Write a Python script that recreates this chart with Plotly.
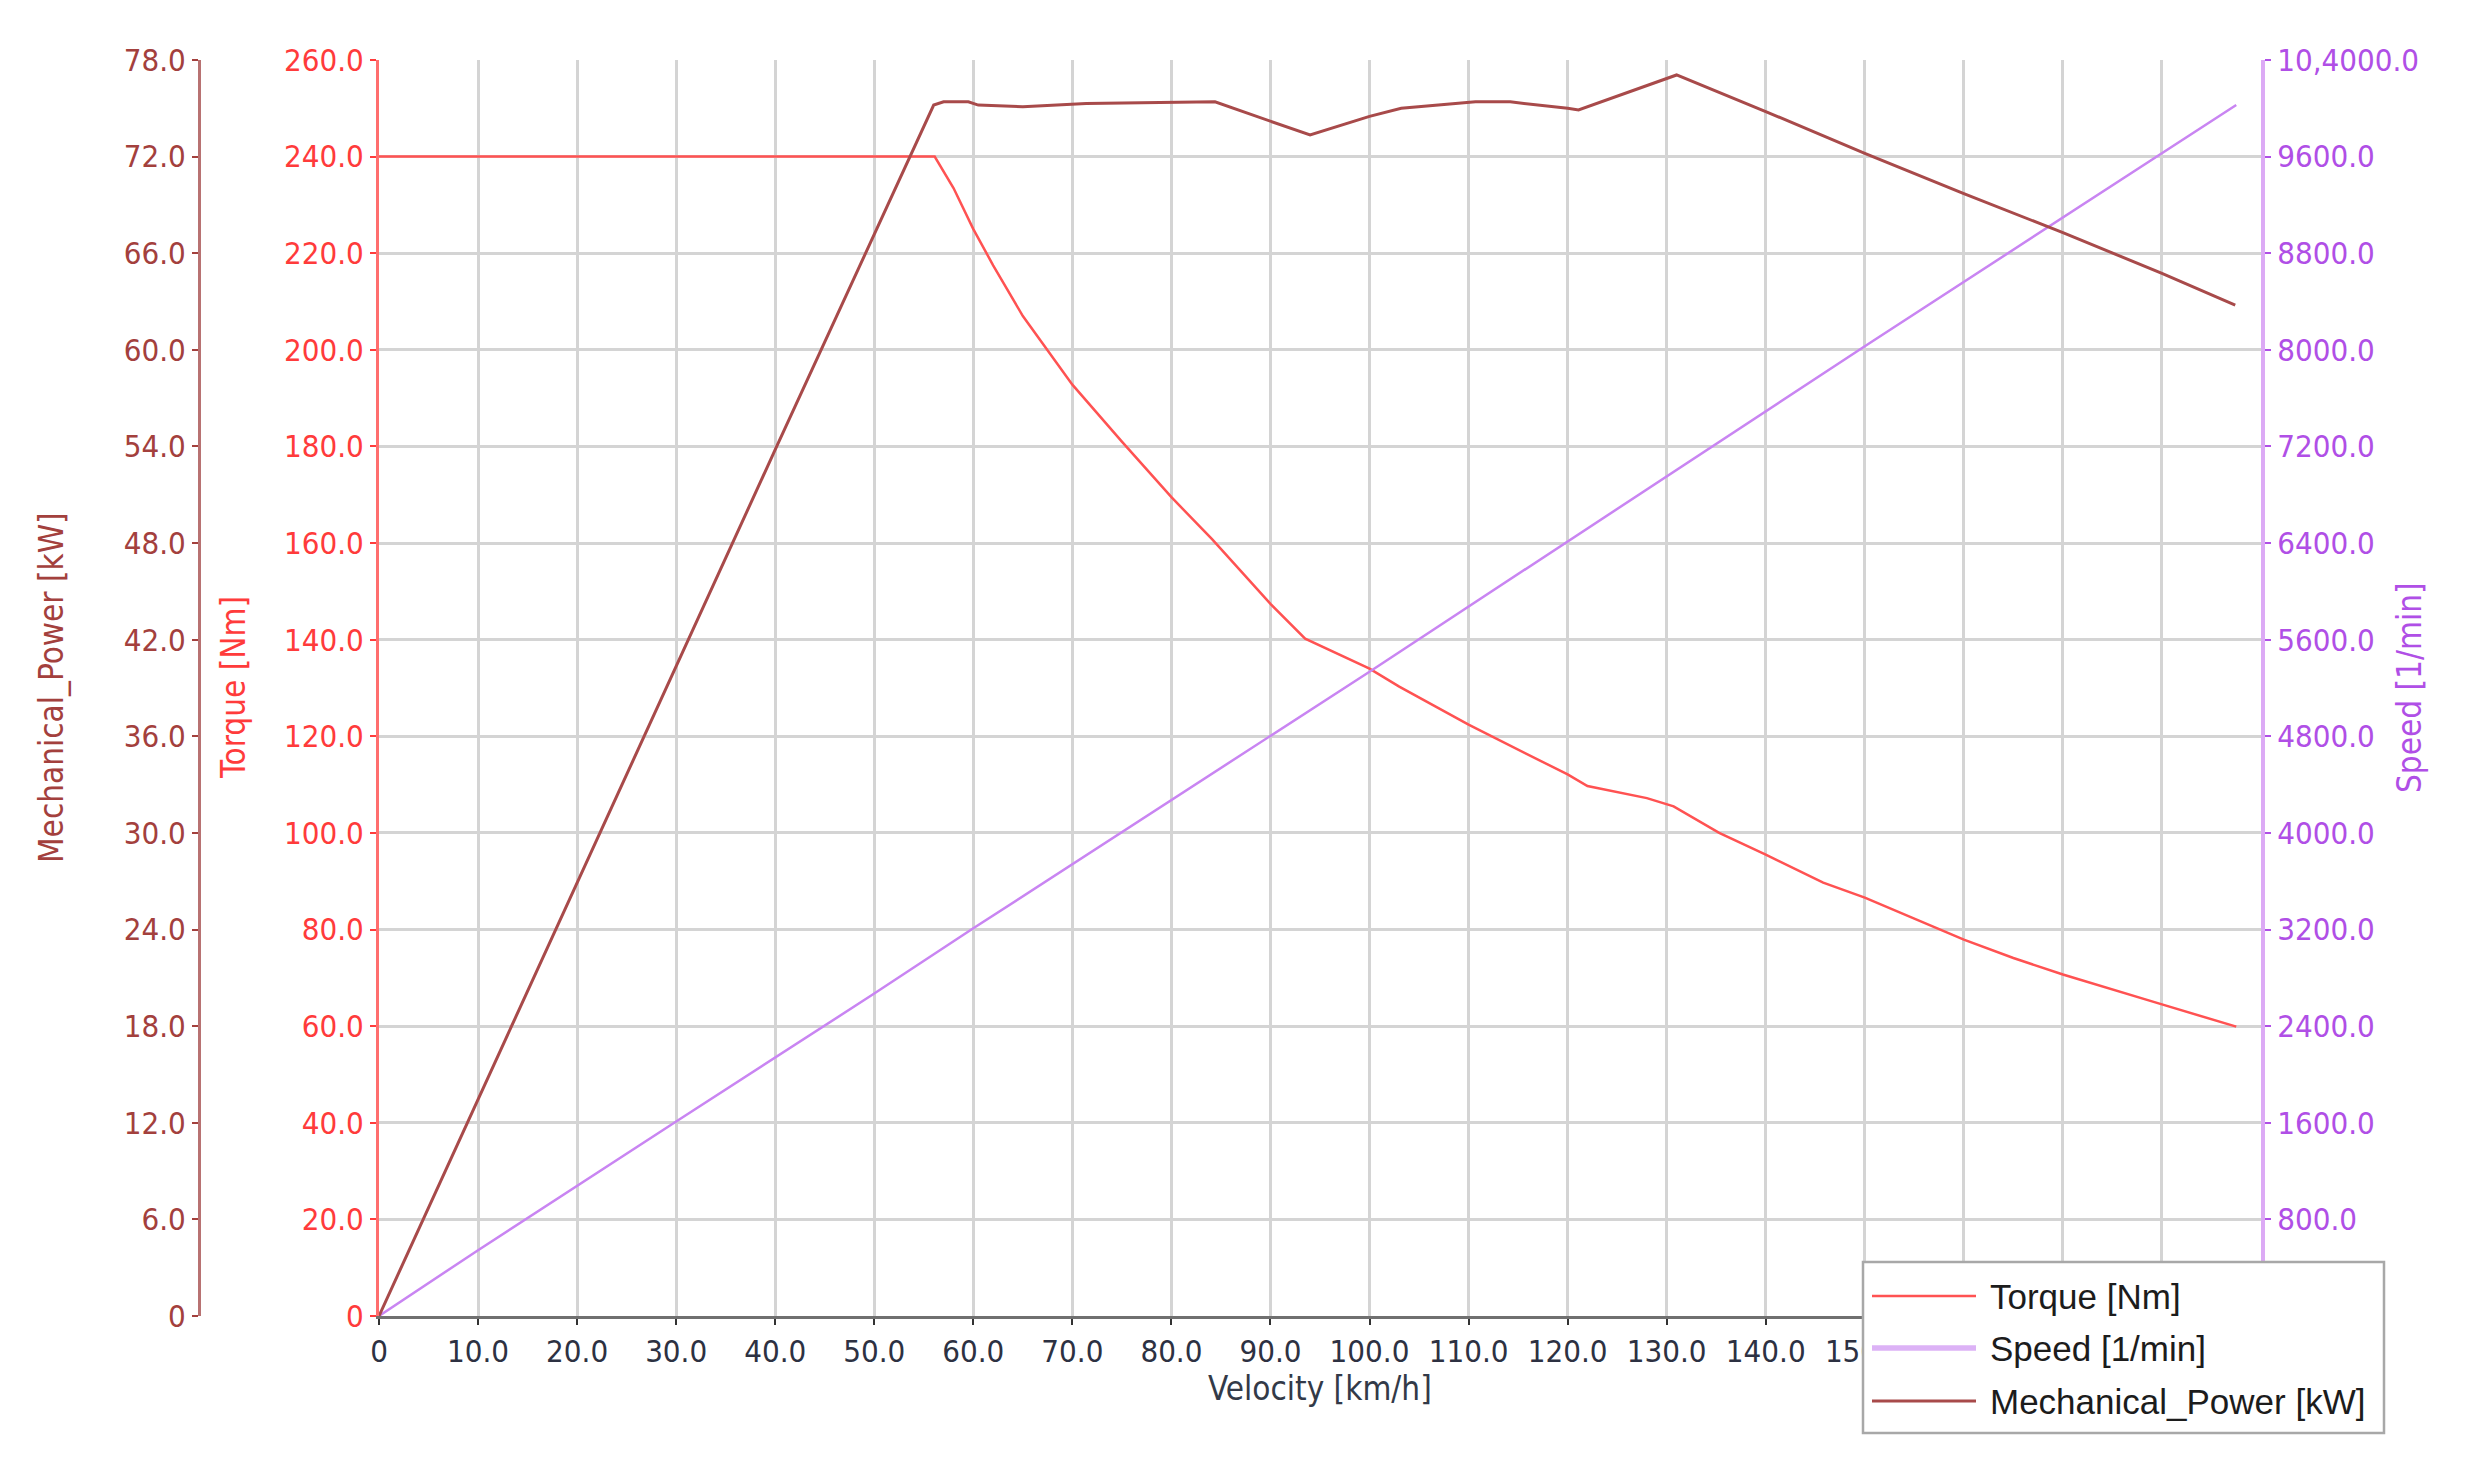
import plotly.graph_objects as go

# ---------------- data ----------------
velocity_torque = [0, 56.1, 58, 60, 62, 65, 70, 75, 80, 84.1, 90, 93.5, 100, 103, 110,
                   120, 122, 128, 130.7, 135.3, 140, 145.8, 150, 160, 165, 170, 180, 187.5]
torque_nm = [240, 240, 233.5, 225, 217.5, 207, 192.8, 181, 169.5, 160.8, 147.4, 140.2, 134, 130.3, 122.4,
             112.1, 109.7, 107.2, 105.5, 100, 95.5, 89.7, 86.6, 77.9, 74.1, 70.7, 64.5, 59.9]

velocity_speed = [0, 10, 30, 50, 60, 100, 150, 187.5]
speed_rpm = [0, 545, 1610, 2670, 3210, 5335, 8030, 10028]

velocity_power = [0, 20, 40, 56.0, 57.0, 59.5, 60.5, 65.0, 71.4, 84.4, 94.0, 100, 103.2, 110.7,
                  114.2, 120, 121.1, 131.0, 140, 150, 160, 170, 180, 187.4]
power_kw = [0, 26.9, 53.8, 75.2, 75.4, 75.4, 75.2, 75.1, 75.3, 75.4, 73.34, 74.5, 75.0, 75.4,
            75.4, 75.0, 74.9, 77.07, 74.8, 72.2, 69.7, 67.28, 64.75, 62.78]

velocity_ticks = list(range(0, 191, 10))
velocity_ticktext = ["0"] + [f"{v:.1f}" if v <= 150 else "" for v in velocity_ticks[1:]]
torque_ticks = list(range(0, 261, 20))
torque_ticktext = ["0"] + [f"{t:.1f}" for t in torque_ticks[1:]]
power_ticks = list(range(0, 79, 6))
power_ticktext = ["0"] + [f"{p:.1f}" for p in power_ticks[1:]]
speed_ticks = list(range(0, 10401, 800))
speed_ticktext = [""] + [f"{s:.1f}" for s in speed_ticks[1:-1]] + ["10,4000.0"]

series_names = ["Torque [Nm]", "Speed [1/min]", "Mechanical_Power [kW]"]

# ---------------- style ----------------
W, H = 2484, 1459
PX0, PX1, PYT, PYB = 379, 2261, 60, 1316
FONT = "Tahoma, 'DejaVu Sans Condensed', 'Liberation Sans', sans-serif"
LFONT = "'Liberation Sans', Arial, sans-serif"

torque_col, torque_line, torque_axis = "#ff3b3b", "#ff5252", "#ff6e6e"
power_col, power_line, power_axis = "#a3403d", "#a84a4a", "#b87272"
speed_col, speed_line, speed_axis = "#b04fe6", "#c985f2", "#dcaaf5"
grid_col = "#d4d4d4"

fig = go.Figure()
fig.add_trace(go.Scatter(x=velocity_torque, y=torque_nm, mode="lines", name=series_names[0],
                         line=dict(color=torque_line, width=2.5), yaxis="y"))
fig.add_trace(go.Scatter(x=velocity_speed, y=speed_rpm, mode="lines", name=series_names[1],
                         line=dict(color=speed_line, width=2.5), yaxis="y2"))
fig.add_trace(go.Scatter(x=velocity_power, y=power_kw, mode="lines", name=series_names[2],
                         line=dict(color=power_line, width=3), yaxis="y3"))

ydom = [1 - PYB / H, 1 - PYT / H]

fig.update_layout(
    width=W, height=H, autosize=False,
    margin=dict(l=0, r=0, t=0, b=0, pad=0, autoexpand=False),
    paper_bgcolor="white", plot_bgcolor="white",
    showlegend=False,
    xaxis=dict(domain=[PX0 / W, PX1 / W], range=[0, 190], tickmode="array",
               tickvals=velocity_ticks, ticktext=velocity_ticktext,
               showgrid=True, gridcolor=grid_col, gridwidth=2.5, zeroline=False,
               showline=True, linecolor="#707070", linewidth=3, automargin=False,
               ticks="outside", ticklen=6, tickwidth=2, tickcolor="#333333",
               tickfont=dict(family=FONT, size=31, color="#2d3142"), anchor="y"),
    yaxis=dict(domain=ydom, range=[0, 260], tickmode="array",
               tickvals=torque_ticks, ticktext=torque_ticktext,
               showgrid=True, gridcolor=grid_col, gridwidth=2.5, zeroline=False,
               showline=True, linecolor=torque_axis, linewidth=3, automargin=False,
               ticks="outside", ticklen=6, tickwidth=2, tickcolor=torque_col,
               tickfont=dict(family=FONT, size=31, color=torque_col),
               anchor="x", side="left"),
    yaxis2=dict(range=[0, 10400], tickmode="array", tickvals=speed_ticks, ticktext=speed_ticktext,
                overlaying="y", side="right", anchor="x", showgrid=False, zeroline=False,
                showline=True, linecolor=speed_axis, linewidth=4, automargin=False,
                ticks="outside", ticklen=6, tickwidth=2, tickcolor=speed_col,
                tickfont=dict(family=FONT, size=31, color=speed_col)),
    yaxis3=dict(range=[0, 78], tickmode="array", tickvals=power_ticks, ticktext=power_ticktext,
                overlaying="y", side="left", anchor="free", position=199 / W,
                showgrid=False, zeroline=False, automargin=False,
                showline=True, linecolor=power_axis, linewidth=3,
                ticks="outside", ticklen=6, tickwidth=2, tickcolor=power_col,
                tickfont=dict(family=FONT, size=31, color=power_col)),
)

# axis titles
titles = [
    ("Mechanical_Power [kW]", 52, power_col),
    ("Torque [Nm]", 234, torque_col),
    ("Speed [1/min]", 2410, speed_col),
]
for txt, xp, col in titles:
    fig.add_annotation(text=txt, x=xp / W, y=1 - 688 / H, xref="paper", yref="paper",
                       textangle=-90, showarrow=False, xanchor="center", yanchor="middle",
                       font=dict(family=FONT, size=33, color=col))
fig.add_annotation(text="Velocity [km/h]", x=1320 / W, y=1 - 1388 / H, xref="paper", yref="paper",
                   showarrow=False, xanchor="center", yanchor="middle",
                   font=dict(family=FONT, size=33, color="#333a48"))

# legend box (drawn like the original: long sample lines)
LX0, LX1, LY0, LY1 = 1863, 2384, 1262, 1433
fig.add_shape(type="rect", xref="paper", yref="paper", layer="above",
              x0=LX0 / W, x1=LX1 / W, y0=1 - LY1 / H, y1=1 - LY0 / H,
              fillcolor="white", line=dict(color="#a8a8a8", width=2.5))
legend_rows = [1296, 1348, 1401]
legend_cols = [(torque_line, 2.5), ("#dcb2f6", 5.5), (power_line, 3)]
for name, ry, (col, lw) in zip(series_names, legend_rows, legend_cols):
    fig.add_shape(type="line", xref="paper", yref="paper", layer="above",
                  x0=1872 / W, x1=1976 / W, y0=1 - ry / H, y1=1 - ry / H,
                  line=dict(color=col, width=lw))
    fig.add_annotation(text=name, x=1988 / W, y=1 - ry / H, xref="paper", yref="paper",
                       showarrow=False, xanchor="left", yanchor="middle",
                       font=dict(family=LFONT, size=35, color="#1c1c1c"))

fig.write_html("out.html", config={"displayModeBar": False},
               post_script="document.body.style.margin='0';document.body.style.overflow='hidden';")
